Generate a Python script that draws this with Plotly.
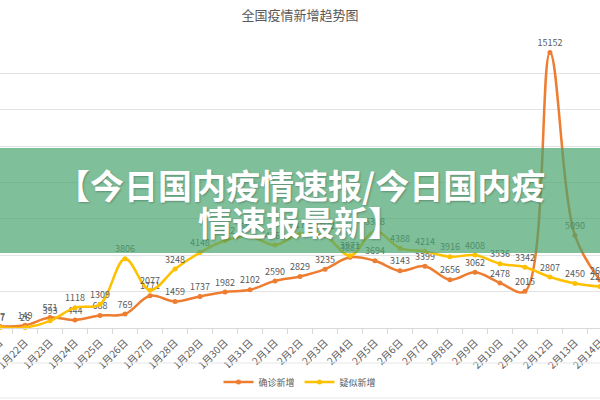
import plotly.graph_objects as go

dates = ["1月21日", "1月22日", "1月23日", "1月24日", "1月25日", "1月26日", "1月27日",
         "1月28日", "1月29日", "1月30日", "1月31日", "2月1日", "2月2日", "2月3日",
         "2月4日", "2月5日", "2月6日", "2月7日", "2月8日", "2月9日", "2月10日",
         "2月11日", "2月12日", "2月13日", "2月14日"]
confirmed = [77, 149, 571, 444, 688, 769, 1771, 1459, 1737, 1982, 2102, 2590, 2829,
             3235, 3887, 3694, 3143, 3399, 2656, 3062, 2478, 2015, 15152, 5090, 2641]
suspected = [27, 26, 393, 1118, 1309, 3806, 2077, 3248, 4148, 4812, 5019, 4562, 5173,
             5072, 3971, 5328, 4388, 4214, 3916, 4008, 3536, 3342, 2807, 2450, 2277]
banner_lines = ["【今日国内疫情速报/今日国内疫", "情速报最新】"]

FONT = "Noto Sans CJK SC, Microsoft YaHei, sans-serif"
GRAY = "#595959"

fig = go.Figure()
fig.add_trace(go.Scatter(
    x=dates, y=confirmed, name="确诊新增", mode="lines+markers+text",
    line=dict(color="#ED7D31", width=2.5, shape="spline", smoothing=1.0),
    marker=dict(size=5, color="#ED7D31"),
    text=[str(v) for v in confirmed], textposition="top center",
    textfont=dict(size=9, color=GRAY, family=FONT), cliponaxis=False))
fig.add_trace(go.Scatter(
    x=dates, y=suspected, name="疑似新增", mode="lines+markers+text",
    line=dict(color="#FFC000", width=2.5, shape="spline", smoothing=1.0),
    marker=dict(size=5, color="#FFC000"),
    text=[str(v) for v in suspected], textposition="top center",
    textfont=dict(size=9, color=GRAY, family=FONT), cliponaxis=False))

# green overlay banner
fig.add_shape(type="rect", xref="paper", yref="paper", x0=-0.01, x1=1.01,
              y0=(328 - 253) / 291, y1=(328 - 148) / 291, layer="above",
              line=dict(width=0), fillcolor="rgba(72,164,111,0.7)")
for line_text, yc in zip(banner_lines, [184, 221]):
    fig.add_annotation(xref="paper", yref="paper", x=0.5, y=(328 - yc) / 291,
                       yanchor="middle", text=line_text,
                       showarrow=False, align="center",
                       font=dict(size=34, color="white", family=FONT, weight="bold",
                                 shadow="1px 1px 2px rgba(0,0,0,0.25)"))

# faint frame lines below axis
for yy in [363, 398]:
    fig.add_shape(type="line", xref="paper", yref="paper", x0=0, x1=1,
                  y0=(328 - yy) / 291, y1=(328 - yy) / 291,
                  line=dict(color="#e6e6e6", width=1))

fig.update_layout(
    width=600, height=400,
    margin=dict(l=0, r=0, t=37, b=72, autoexpand=False),
    paper_bgcolor="white", plot_bgcolor="white",
    title=dict(text="全国疫情新增趋势图", x=0.5, xanchor="center", y=0.962,
               yanchor="middle", font=dict(size=13, color=GRAY, family=FONT)),
    showlegend=True,
    legend=dict(orientation="h", x=0.5, xanchor="center", y=(328 - 382) / 291,
                yanchor="middle", font=dict(size=9, color=GRAY, family=FONT),
                itemwidth=30),
    xaxis=dict(type="category", range=[-0.002, 24.002], tickangle=-45,
               tickfont=dict(size=10, color=GRAY, family=FONT),
               ticklabelstandoff=4,
               showline=True, linecolor="#d9d9d9", ticks="outside",
               tickson="boundaries", ticklen=5, tickcolor="#d9d9d9",
               showgrid=False, automargin=False),
    yaxis=dict(range=[0, 16000], dtick=2000, showticklabels=False,
               gridcolor="#e3e3e3", zeroline=False, showline=False,
               automargin=False),
)

fig.write_html("out.html", config={"displayModeBar": False},
               post_script="document.body.style.margin='0';")
